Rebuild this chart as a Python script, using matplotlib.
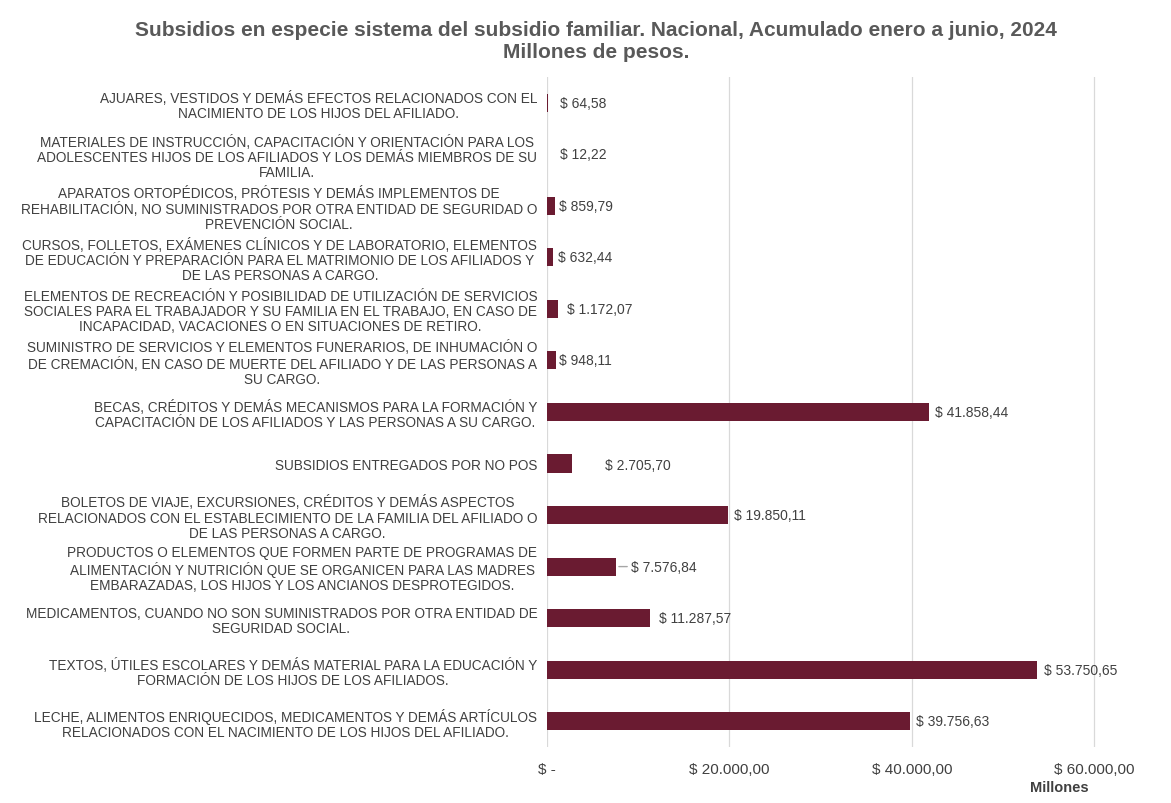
import numpy as np
import matplotlib.pyplot as plt

plt.rcParams['font.family'] = ['Liberation Sans', 'DejaVu Sans']

# Categories, top to bottom as shown in the chart
categories = [
    "AJUARES, VESTIDOS Y DEMÁS EFECTOS RELACIONADOS CON EL\nNACIMIENTO DE LOS HIJOS DEL AFILIADO.",
    "MATERIALES DE INSTRUCCIÓN, CAPACITACIÓN Y ORIENTACIÓN PARA LOS\nADOLESCENTES HIJOS DE LOS AFILIADOS Y LOS DEMÁS MIEMBROS DE SU\nFAMILIA.",
    "APARATOS ORTOPÉDICOS, PRÓTESIS Y DEMÁS IMPLEMENTOS DE\nREHABILITACIÓN, NO SUMINISTRADOS POR OTRA ENTIDAD DE SEGURIDAD O\nPREVENCIÓN SOCIAL.",
    "CURSOS, FOLLETOS, EXÁMENES CLÍNICOS Y DE LABORATORIO, ELEMENTOS\nDE EDUCACIÓN Y PREPARACIÓN PARA EL MATRIMONIO DE LOS AFILIADOS Y\nDE LAS PERSONAS A CARGO.",
    "ELEMENTOS DE RECREACIÓN Y POSIBILIDAD DE UTILIZACIÓN DE SERVICIOS\nSOCIALES PARA EL TRABAJADOR Y SU FAMILIA EN EL TRABAJO, EN CASO DE\nINCAPACIDAD, VACACIONES O EN SITUACIONES DE RETIRO.",
    "SUMINISTRO DE SERVICIOS Y ELEMENTOS FUNERARIOS, DE INHUMACIÓN O\nDE CREMACIÓN, EN CASO DE MUERTE DEL AFILIADO Y DE LAS PERSONAS A\nSU CARGO.",
    "BECAS, CRÉDITOS Y DEMÁS MECANISMOS PARA LA FORMACIÓN Y\nCAPACITACIÓN DE LOS AFILIADOS Y LAS PERSONAS A SU CARGO.",
    "SUBSIDIOS ENTREGADOS POR NO POS",
    "BOLETOS DE VIAJE, EXCURSIONES, CRÉDITOS Y DEMÁS ASPECTOS\nRELACIONADOS CON EL ESTABLECIMIENTO DE LA FAMILIA DEL AFILIADO O\nDE LAS PERSONAS A CARGO.",
    "PRODUCTOS O ELEMENTOS QUE FORMEN PARTE DE PROGRAMAS DE\nALIMENTACIÓN Y NUTRICIÓN QUE SE ORGANICEN PARA LAS MADRES\nEMBARAZADAS, LOS HIJOS Y LOS ANCIANOS DESPROTEGIDOS.",
    "MEDICAMENTOS, CUANDO NO SON SUMINISTRADOS POR OTRA ENTIDAD DE\nSEGURIDAD SOCIAL.",
    "TEXTOS, ÚTILES ESCOLARES Y DEMÁS MATERIAL PARA LA EDUCACIÓN Y\nFORMACIÓN DE LOS HIJOS DE LOS AFILIADOS.",
    "LECHE, ALIMENTOS ENRIQUECIDOS, MEDICAMENTOS Y DEMÁS ARTÍCULOS\nRELACIONADOS CON EL NACIMIENTO DE LOS HIJOS DEL AFILIADO.",
]

# Millones de pesos
values = [64.58, 12.22, 859.79, 632.44, 1172.07, 948.11, 41858.44,
          2705.70, 19850.11, 7576.84, 11287.57, 53750.65, 39756.63]

value_labels = ["$ 64,58", "$ 12,22", "$ 859,79", "$ 632,44", "$ 1.172,07",
                "$ 948,11", "$ 41.858,44", "$ 2.705,70", "$ 19.850,11",
                "$ 7.576,84", "$ 11.287,57", "$ 53.750,65", "$ 39.756,63"]

xticks = [0, 20000, 40000, 60000]
xtick_labels = ["$ -", "$ 20.000,00", "$ 40.000,00", "$ 60.000,00"]

# label gap from the bar end, in points (Excel nudged some labels)
label_gap = [9, 9, 3, 4, 6.5, 2.5, 4.5, 24, 4.5, 11, 6.5, 5, 4.5]

BAR = '#6A1B31'
TXT = '#404040'

fig = plt.figure(figsize=(11.71, 8.04), dpi=100)
ax = fig.add_axes([0.4671, 0.0697, 0.4987, 0.8333])

y = np.arange(len(categories))
ax.barh(y, values, height=0.35, color=BAR, linewidth=0, zorder=3)
ax.set_ylim(len(categories) - 0.5, -0.5)
ax.set_xlim(0, 64000)

ax.set_yticks(y)
ax.set_yticklabels(categories, fontsize=9.8, color=TXT, ha='right',
                   multialignment='center', linespacing=1.1)
ax.set_xticks(xticks)
ax.set_xticklabels(xtick_labels, fontsize=11, color=TXT)
ax.tick_params(axis='both', length=0)
ax.tick_params(axis='y', pad=7)
ax.tick_params(axis='x', pad=11)

for s in ax.spines.values():
    s.set_visible(False)
ax.grid(axis='x', color='#D9D9D9', linewidth=0.9, zorder=0)
ax.set_axisbelow(True)

for i, (v, lab) in enumerate(zip(values, value_labels)):
    if lab == "$ 7.576,84":
        ax.annotate(lab, xy=(v, i), xytext=(label_gap[i], 0),
                    textcoords='offset points', va='center', ha='left',
                    fontsize=10, color=TXT,
                    arrowprops=dict(arrowstyle='-', color='#A6A6A6', lw=1.0,
                                    shrinkA=1, shrinkB=2))
    else:
        ax.annotate(lab, xy=(v, i), xytext=(label_gap[i], -1 if i == 7 else 0),
                    textcoords='offset points', va='center', ha='left',
                    fontsize=10, color=TXT)

fig.text(0.509, 0.948,
         "Subsidios en especie sistema del subsidio familiar. Nacional, Acumulado enero a junio, 2024\nMillones de pesos.",
         ha='center', va='center', fontsize=15, fontweight='bold',
         color='#595959', linespacing=1.2)

fig.text(0.905, 0.020, "Millones", ha='center', va='center',
         fontsize=10.5, fontweight='bold', color=TXT)

fig.savefig('out.png', dpi=100, facecolor='white')
